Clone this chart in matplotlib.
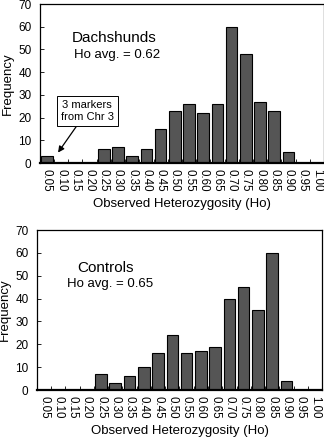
import numpy as np
from matplotlib import pyplot as plt

plt.rcParams['font.family'] = ['Liberation Sans', 'DejaVu Sans']

# Категории гетерозиготности
bins = ["0.05", "0.10", "0.15", "0.20", "0.25", "0.30", "0.35", "0.40", "0.45", "0.50",
        "0.55", "0.60", "0.65", "0.70", "0.75", "0.80", "0.85", "0.90", "0.95", "1.00"]

# Частоты
dachshunds = [3, 0, 0, 0, 6, 7, 3, 6, 15, 23, 26, 22, 26, 60, 48, 27, 23, 5, 0, 0]
controls = [0, 0, 0, 0, 7, 3, 6, 10, 16, 24, 16, 17, 19, 40, 45, 35, 60, 4, 0, 0]

bar_color = "#555555"


def draw_panel(ax, values):
    x = np.arange(len(bins))
    ax.bar(x, values, width=0.82, color=bar_color, edgecolor="black", linewidth=0.8)
    ax.set_xlim(-0.5, len(bins) - 0.5)
    ax.set_ylim(0, 70)
    ax.set_yticks(range(0, 71, 10))
    ax.set_xticks(x)
    ax.set_xticklabels(bins, rotation=270, fontsize=8.3)
    ax.set_xticks(x[:-1] + 0.5, minor=True)
    ax.tick_params(axis="x", which="major", length=0, pad=4)
    ax.tick_params(axis="x", which="minor", direction="in", length=3, width=0.6)
    ax.tick_params(axis="y", direction="in", length=3, width=0.6, labelsize=8.5, pad=6)
    ax.set_ylabel("Frequency", fontsize=9.5, labelpad=3)
    ax.set_xlabel("Observed Heterozygosity (Ho)", fontsize=9.5, labelpad=5)
    for s in ax.spines.values():
        s.set_linewidth(0.9)
    ax.spines["bottom"].set_linewidth(1.6)


fig = plt.figure(figsize=(3.24, 4.40), dpi=100)

ax1 = fig.add_axes([0.123, 0.6295, 0.877, 0.3614])
draw_panel(ax1, dachshunds)
ax1.text(0.112, 0.786, "Dachshunds", transform=ax1.transAxes, fontsize=11, va="center")
ax1.text(0.119, 0.679, "Ho avg. = 0.62", transform=ax1.transAxes, fontsize=9.5, va="center")
ax1.annotate("3 markers\nfrom Chr 3", xy=(0.78, 4.6), xytext=(2.83, 22.9),
             fontsize=8, ha="center", va="center", linespacing=1.3,
             bbox=dict(boxstyle="square,pad=0.35", fc="white", ec="black", lw=0.7),
             arrowprops=dict(arrowstyle="-|>", color="black", lw=0.9, mutation_scale=9,
                             shrinkA=0, shrinkB=0))

ax2 = fig.add_axes([0.114, 0.1136, 0.880, 0.3636])
draw_panel(ax2, controls)
ax2.text(0.140, 0.7625, "Controls", transform=ax2.transAxes, fontsize=11, va="center")
ax2.text(0.105, 0.6625, "Ho avg. = 0.65", transform=ax2.transAxes, fontsize=9.5, va="center")

fig.savefig("out.png", dpi=100)
